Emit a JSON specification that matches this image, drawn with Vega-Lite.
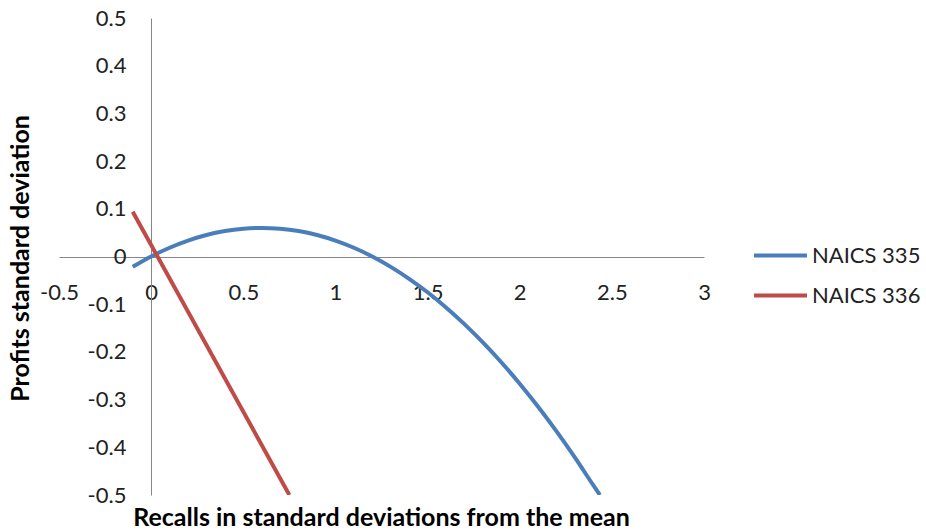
{
  "$schema": "https://vega.github.io/schema/vega-lite/v6.json",
  "autosize": {"type": "none"},
  "width": 645,
  "height": 477,
  "padding": {"left": 59, "top": 18, "right": 222, "bottom": 36},
  "background": "white",
  "config": {
    "view": {"stroke": null},
    "font": "Lato",
    "axis": {
      "grid": false,
      "ticks": false,
      "domainColor": "#868686",
      "domainWidth": 1,
      "labelFont": "Lato",
      "labelFontSize": 22,
      "labelColor": "#222222",
      "labelOverlap": false,
      "labelFlush": false,
      "labelExpr": "replace(datum.label, '−', '-')",
      "titleFont": "Lato",
      "titleFontSize": 25,
      "titleFontWeight": "bold",
      "titleColor": "#000000"
    }
  },
  "data": {
    "values": [
      {"recalls": -0.1, "profits": -0.0217, "series": "NAICS 335"},
      {"recalls": 0.0, "profits": 0.0, "series": "NAICS 335"},
      {"recalls": 0.1, "profits": 0.0183, "series": "NAICS 335"},
      {"recalls": 0.2, "profits": 0.0333, "series": "NAICS 335"},
      {"recalls": 0.3, "profits": 0.045, "series": "NAICS 335"},
      {"recalls": 0.4, "profits": 0.0533, "series": "NAICS 335"},
      {"recalls": 0.5, "profits": 0.0583, "series": "NAICS 335"},
      {"recalls": 0.6, "profits": 0.06, "series": "NAICS 335"},
      {"recalls": 0.7, "profits": 0.0583, "series": "NAICS 335"},
      {"recalls": 0.8, "profits": 0.0533, "series": "NAICS 335"},
      {"recalls": 0.9, "profits": 0.045, "series": "NAICS 335"},
      {"recalls": 1.0, "profits": 0.0333, "series": "NAICS 335"},
      {"recalls": 1.1, "profits": 0.0183, "series": "NAICS 335"},
      {"recalls": 1.2, "profits": 0.0, "series": "NAICS 335"},
      {"recalls": 1.3, "profits": -0.0217, "series": "NAICS 335"},
      {"recalls": 1.4, "profits": -0.0467, "series": "NAICS 335"},
      {"recalls": 1.5, "profits": -0.075, "series": "NAICS 335"},
      {"recalls": 1.6, "profits": -0.1067, "series": "NAICS 335"},
      {"recalls": 1.7, "profits": -0.1417, "series": "NAICS 335"},
      {"recalls": 1.8, "profits": -0.18, "series": "NAICS 335"},
      {"recalls": 1.9, "profits": -0.2217, "series": "NAICS 335"},
      {"recalls": 2.0, "profits": -0.2667, "series": "NAICS 335"},
      {"recalls": 2.1, "profits": -0.315, "series": "NAICS 335"},
      {"recalls": 2.2, "profits": -0.3667, "series": "NAICS 335"},
      {"recalls": 2.3, "profits": -0.4217, "series": "NAICS 335"},
      {"recalls": 2.4, "profits": -0.48, "series": "NAICS 335"},
      {"recalls": 2.435, "profits": -0.5, "series": "NAICS 335"},
      {"recalls": -0.1, "profits": 0.094, "series": "NAICS 336"},
      {"recalls": 0.75, "profits": -0.5, "series": "NAICS 336"}
    ]
  },
  "mark": {"type": "line", "strokeWidth": 4, "interpolate": "monotone", "clip": true},
  "encoding": {
    "x": {
      "field": "recalls",
      "type": "quantitative",
      "scale": {"domain": [-0.5, 3], "nice": false, "zero": false},
      "axis": {
        "orient": "bottom",
        "offset": -238,
        "values": [-0.5, 0, 0.5, 1, 1.5, 2, 2.5, 3],
        "format": "~g",
        "labelPadding": 25,
        "title": "Recalls in standard deviations from the mean",
        "titleX": 322,
        "titleY": 260,
        "titleAnchor": null,
        "titleAlign": "center",
        "titleBaseline": "middle"
      }
    },
    "y": {
      "field": "profits",
      "type": "quantitative",
      "scale": {"domain": [-0.5, 0.5], "nice": false},
      "axis": {
        "orient": "left",
        "offset": -92,
        "values": [-0.5, -0.4, -0.3, -0.2, -0.1, 0, 0.1, 0.2, 0.3, 0.4, 0.5],
        "format": "~g",
        "labelPadding": 25,
        "title": "Profits standard deviation",
        "titleX": -131,
        "titleY": 240,
        "titleAngle": -90,
        "titleAlign": "center",
        "titleBaseline": "middle"
      }
    },
    "color": {
      "field": "series",
      "type": "nominal",
      "scale": {"domain": ["NAICS 335", "NAICS 336"], "range": ["#4A7EBB", "#BE4B48"]},
      "legend": {
        "title": null,
        "orient": "none",
        "legendX": 693,
        "legendY": 209,
        "symbolType": "stroke",
        "symbolSize": 2809,
        "symbolStrokeWidth": 4,
        "labelFont": "Lato",
        "labelFontSize": 22,
        "labelColor": "#222222",
        "labelOffset": 3,
        "rowPadding": -5
      }
    }
  }
}
